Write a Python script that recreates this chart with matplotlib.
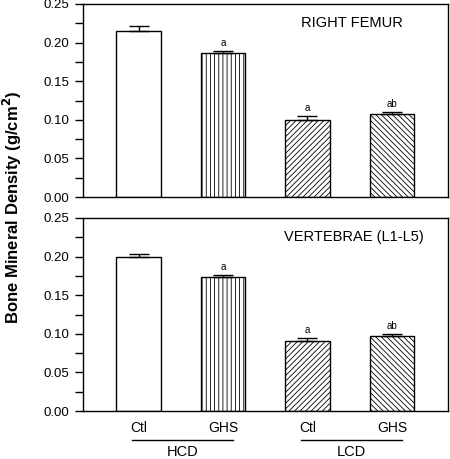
import matplotlib
matplotlib.use("Agg")
import matplotlib.pyplot as plt

plt.rcParams['font.family'] = ['Liberation Sans', 'DejaVu Sans']
plt.rcParams['hatch.linewidth'] = 0.6

groups = ["Ctl", "GHS", "Ctl", "GHS"]
diets = ["HCD", "LCD"]
femur = [0.215, 0.186, 0.100, 0.108]
femur_err = [0.006, 0.003, 0.005, 0.0025]
vert = [0.1995, 0.173, 0.091, 0.097]
vert_err = [0.004, 0.003, 0.003, 0.003]
femur_sig = ["", "a", "a", "ab"]
vert_sig = ["", "a", "a", "ab"]
hatches = ["", "||||", "//////", "\\\\\\\\\\\\"]

fig = plt.figure(figsize=(4.5, 4.59), dpi=100)
W, H = 450, 459
ax1 = fig.add_axes([83 / W, 1 - 197 / H, 365 / W, 193 / H])
ax2 = fig.add_axes([83 / W, 1 - 411 / H, 365 / W, 193 / H])

x = [1, 2, 3, 4]

def panel(ax, vals, errs, sig, title, tx):
    for i in range(4):
        ax.bar(x[i], vals[i], width=0.53, color="white", edgecolor="black",
               linewidth=1.0, hatch=hatches[i], zorder=2)
        ax.errorbar(x[i], vals[i], yerr=[[0], [errs[i]]], fmt="none",
                    ecolor="black", elinewidth=1.0, capsize=7.5,
                    capthick=1.0, zorder=3)
        if sig[i]:
            ax.text(x[i], vals[i] + errs[i] + 0.004, sig[i], ha="center",
                    va="bottom", fontsize=7)
    ax.set_xlim(0.343, 4.663)
    ax.set_ylim(0, 0.25)
    ax.set_yticks([0, 0.05, 0.10, 0.15, 0.20, 0.25])
    ax.set_yticklabels(["0.00", "0.05", "0.10", "0.15", "0.20", "0.25"])
    ax.set_yticks([0.025, 0.075, 0.125, 0.175, 0.225], minor=True)
    ax.tick_params(axis="y", direction="out", length=6, width=1,
                   labelsize=9.5, pad=4)
    ax.tick_params(axis="y", which="minor", direction="out", length=6, width=1)
    ax.tick_params(axis="x", length=0)
    for s in ax.spines.values():
        s.set_linewidth(1.0)
    ax.text(tx, 0.225, title, ha="center", va="center", fontsize=10.5)

panel(ax1, femur, femur_err, femur_sig, "RIGHT FEMUR", 3.53)
panel(ax2, vert, vert_err, vert_sig, "VERTEBRAE (L1-L5)", 3.55)

ax1.set_xticks([])
ax2.set_xticks(x)
ax2.set_xticklabels(groups, fontsize=10)
ax2.tick_params(axis="x", pad=7)

# diet group lines and labels
for j, d in enumerate(diets):
    a = x[2 * j] - 0.08
    b = x[2 * j + 1] + 0.12
    ax2.plot([a, b], [-0.0376, -0.0376], color="black", lw=1.0,
             clip_on=False)
    ax2.text((a + b) / 2, -0.053, d, ha="center", va="center",
             fontsize=10.5)

fig.text(12 / W, 1 - 207 / H, "Bone Mineral Density (g/cm$^{\\mathbf{2}}$)",
         rotation=90, ha="center", va="center", fontsize=12,
         fontweight="bold")

fig.savefig("out.png", dpi=100)
